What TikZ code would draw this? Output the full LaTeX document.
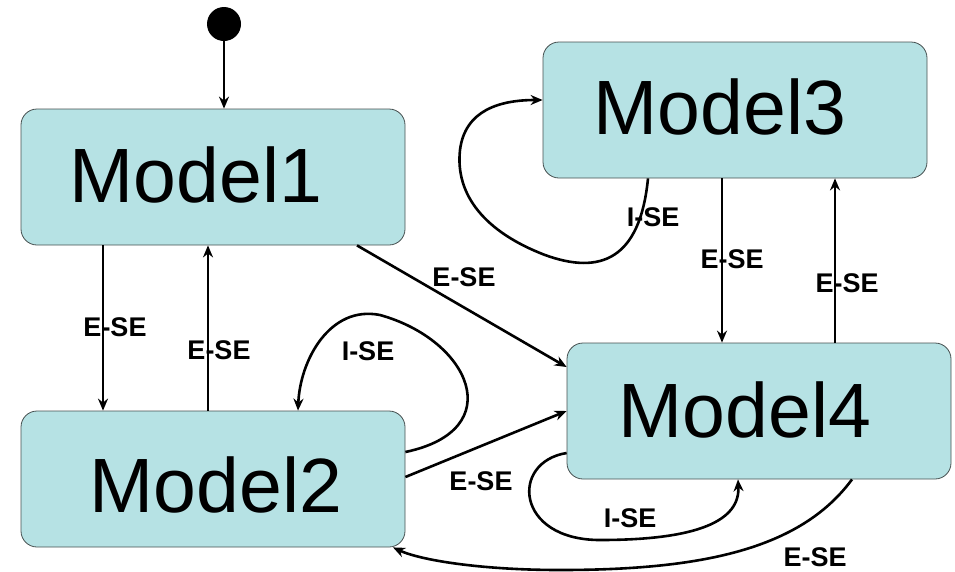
\documentclass[tikz,border=0pt]{standalone}
\usepackage{fontspec}
\setmainfont{Liberation Sans}
\usetikzlibrary{arrows.meta}
\definecolor{statefill}{RGB}{182,226,228}
\definecolor{stateedge}{RGB}{70,80,80}
\begin{document}
\begin{tikzpicture}[x=1pt,y=-1pt,
  statebox/.style={draw=stateedge, line width=0.8pt, fill=statefill,
    rounded corners=16pt, minimum width=384pt, minimum height=136pt, inner sep=0pt},
  statename/.style={font=\fontsize{77}{77}\selectfont, inner sep=0pt},
  trans/.style={line width=2.6pt, -{Stealth[length=12pt,width=10pt]}},
  tlabel/.style={font=\fontsize{27}{27}\selectfont\bfseries, inner sep=0pt}]
\useasboundingbox (0,0) rectangle (955,571);

% states
\node[statebox] (m1) at (213,177) {};
\node[statebox] (m2) at (213,479) {};
\node[statebox] (m3) at (735,110) {};
\node[statebox] (m4) at (759,411) {};
\node[statename] (t1) at (196,175) {Model1};
\node[statename] (t2) at (216,485) {Model2};
\node[statename] (t3) at (720,107) {Model3};
\node[statename] (t4) at (745,410) {Model4};

% initial pseudo-state
\node[circle, fill=black, minimum size=34pt, inner sep=0pt] (init) at (224,24) {};
\draw[trans] (init.south) -- ([xshift=11pt]m1.north);

% Model1 <-> Model2
\draw[trans] ([xshift=-110pt]m1.south) -- ([xshift=-110pt]m2.north);
\node[tlabel] (l12) at (115,327) {E-SE};
\draw[trans] ([xshift=-5pt]m2.north) -- ([xshift=-5pt]m1.south);
\node[tlabel] (l21) at (219,350) {E-SE};

% Model1 -> Model4
\draw[trans] ([xshift=144pt]m1.south) -- ([yshift=44pt]m4.west);
\node[tlabel] (l14) at (464,277) {E-SE};

% Model2 self loop
\draw[trans] ([yshift=27pt]m2.east) .. controls (510,430) and (470,340) .. (380,315)
  .. controls (330,305) and (300,360) .. ([xshift=85pt]m2.north);
\node[tlabel] (l22) at (368,351) {I-SE};

% Model2 -> Model4
\draw[trans] ([yshift=2pt]m2.east) -- (m4.west);
\node[tlabel] (l24) at (481,481) {E-SE};

% Model3 self loop
\draw[trans] ([xshift=-87pt]m3.south) .. controls (640,260) and (600,275) .. (545,255)
  .. controls (485,232) and (455,195) .. (460,150)
  .. controls (465,110) and (500,100) .. ([yshift=10pt]m3.west);
\node[tlabel] (l33) at (653,217) {I-SE};

% Model3 <-> Model4
\draw[trans] ([xshift=-13pt]m3.south) -- ([xshift=-37pt]m4.north);
\node[tlabel] (l34) at (732,259) {E-SE};
\draw[trans] ([xshift=76pt]m4.north) -- ([xshift=100pt]m3.south);
\node[tlabel] (l43) at (847,283) {E-SE};

% Model4 self loop
\draw[trans] ([yshift=-42pt]m4.west) .. controls (510,462) and (515,540) .. (600,540)
  .. controls (700,540) and (740,520) .. ([xshift=-21pt]m4.south);
\node[tlabel] (l44) at (630,518) {I-SE};

% Model4 -> Model2
\draw[trans] ([xshift=93pt]m4.south) .. controls (800,550) and (700,570) .. (560,570)
  .. controls (480,570) and (420,560) .. ([xshift=180pt]m2.south);
\node[tlabel] (l42) at (815,557) {E-SE};
\end{tikzpicture}
\end{document}
